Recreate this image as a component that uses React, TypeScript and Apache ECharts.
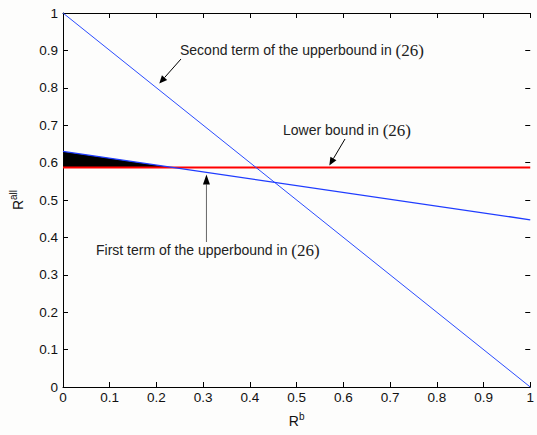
import React, { useEffect, useRef } from "react";
import * as echarts from "echarts";

const xEnds = [0, 1];
const secondTerm = [1, 0];
const firstTerm = [0.63, 0.447];
const lowerBound = 0.587;
const crossX = 0.235;

const SANS = "'Liberation Sans', Arial, sans-serif";
const SERIF = "'Liberation Serif', 'Times New Roman', serif";

export default function App() {
  const ref = useRef<HTMLDivElement>(null);
  useEffect(() => {
    const chart = echarts.init(ref.current!, undefined, { renderer: "svg" });
    const axisCommon = {
      type: "value" as const,
      min: 0,
      max: 1,
      interval: 0.1,
      axisLine: { show: true, onZero: false, lineStyle: { color: "#000", width: 1 } },
      axisTick: { show: true, inside: true, length: 5, lineStyle: { color: "#000" } },
      splitLine: { show: false },
    };
    const firstAt = (x: number) => firstTerm[0] + (firstTerm[1] - firstTerm[0]) * x;
    const fmt = (v: number) => String(Math.round(v * 10) / 10);
    chart.setOption({
      animation: false,
      backgroundColor: "#fdfdfc",
      grid: { left: 62, top: 13, width: 475.5, height: 374 },
      xAxis: [
        {
          ...axisCommon,
          position: "bottom",
          axisLabel: { color: "#111", fontFamily: SANS, fontSize: 13.5, margin: 3, formatter: fmt },
          name: "R{sup|b}",
          nameLocation: "middle",
          nameGap: 24,
          nameTextStyle: {
            color: "#111",
            fontFamily: SANS,
            fontSize: 14,
            rich: { sup: { fontSize: 10, fontFamily: SANS, color: "#111", verticalAlign: "top", padding: [0, 0, 9, 0] } },
          },
        },
        { ...axisCommon, position: "top", axisLabel: { show: false } },
      ],
      yAxis: [
        {
          ...axisCommon,
          position: "left",
          axisLabel: { color: "#111", fontFamily: SANS, fontSize: 13.5, margin: 5, formatter: fmt },
          name: "R{sup|all}",
          nameLocation: "middle",
          nameGap: 36,
          nameRotate: 90,
          nameTextStyle: {
            color: "#111",
            fontFamily: SANS,
            fontSize: 14,
            rich: { sup: { fontSize: 10, fontFamily: SANS, color: "#111", verticalAlign: "top", padding: [0, 0, 9, 0] } },
          },
        },
        {
          ...axisCommon,
          position: "right",
          axisLabel: { show: false },
          axisLine: { show: false, onZero: false },
        },
      ],
      series: [
        {
          type: "line",
          data: [
            [xEnds[0], firstTerm[0]],
            [crossX, firstAt(crossX)],
          ],
          symbol: "none",
          lineStyle: { width: 0 },
          areaStyle: { color: "#000", opacity: 1, origin: lowerBound },
          z: 2,
        },
        {
          type: "line",
          data: xEnds.map((x) => [x, lowerBound]),
          symbol: "none",
          lineStyle: { color: "#ff0000", width: 2 },
          z: 3,
        },
        {
          type: "line",
          data: xEnds.map((x, i) => [x, secondTerm[i]]),
          symbol: "none",
          lineStyle: { color: "#2a4cff", width: 1 },
          z: 4,
        },
        {
          type: "line",
          data: xEnds.map((x, i) => [x, firstTerm[i]]),
          symbol: "none",
          lineStyle: { color: "#1f3cff", width: 1.4 },
          z: 4,
        },
      ],
    });

    const px = (x: number, y: number) =>
      chart.convertToPixel({ xAxisIndex: 0, yAxisIndex: 0 }, [x, y]) as number[];
    const arrow = (from: number[], to: number[], color: string, headLen: number, headW: number) => {
      const dx = to[0] - from[0];
      const dy = to[1] - from[1];
      const len = Math.hypot(dx, dy);
      const ux = dx / len;
      const uy = dy / len;
      const bx = to[0] - ux * headLen;
      const by = to[1] - uy * headLen;
      return [
        { type: "line", shape: { x1: from[0], y1: from[1], x2: bx, y2: by }, style: { stroke: color, lineWidth: 1 } },
        {
          type: "polygon",
          shape: {
            points: [
              [to[0], to[1]],
              [bx - uy * headW, by + ux * headW],
              [bx + uy * headW, by - ux * headW],
            ],
          },
          style: { fill: "#000" },
        },
      ];
    };
    const label = (x: number, y: number, main: string) => ({
      type: "text",
      x,
      y,
      style: {
        text: main + "{s|(26)}",
        fill: "#222",
        font: `14px ${SANS}`,
        verticalAlign: "middle",
        rich: { s: { fontFamily: SERIF, fontSize: 17, fill: "#222" } },
      },
    });

    const tip2 = px(0.206, 0.806);
    const tipL = px(0.57, lowerBound);
    const tipF = px(0.307, firstAt(0.307));
    chart.setOption({
      graphic: [
        label(180, 50, "Second term of the upperbound in "),
        ...arrow([181, 59], [tip2[0], tip2[1] - 2], "#000", 8, 3.5),
        label(283, 130, "Lower bound in "),
        ...arrow([345, 139], [tipL[0], tipL[1] - 2], "#000", 8, 3.5),
        label(96, 250, "First term of the upperbound in "),
        ...arrow([tipF[0], 242], [tipF[0], tipF[1] + 2], "#666", 10, 3.5),
      ],
    });
    return () => chart.dispose();
  }, []);
  return <div ref={ref} style={{ position: "fixed", left: 0, top: 0, width: 537, height: 435 }} />;
}
